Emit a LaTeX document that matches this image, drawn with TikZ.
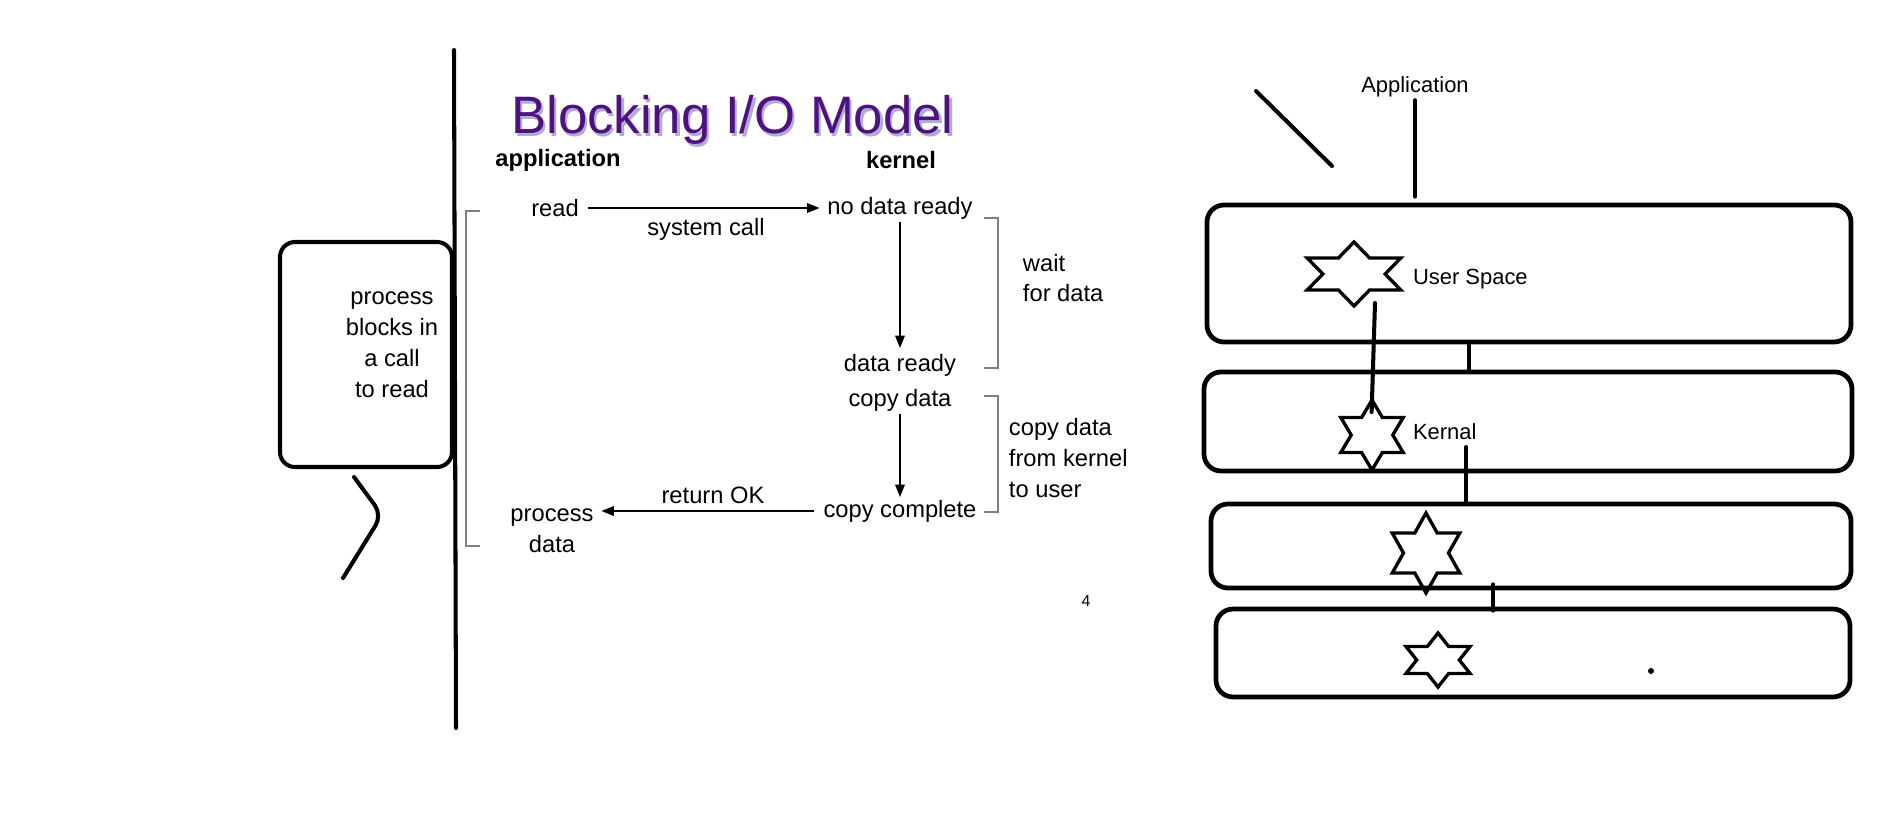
\documentclass[tikz,border=0pt]{standalone}
\usepackage{fontspec}
\setmainfont{Liberation Sans}
\usetikzlibrary{arrows.meta,calc}
\definecolor{titlepurple}{RGB}{78,18,128}
\definecolor{titleshadow}{RGB}{178,172,212}
\definecolor{bracketgray}{RGB}{128,128,128}
\tikzset{
  lbl/.style={inner sep=1.5pt, font=\fontsize{13.5}{17.6}\selectfont},
  hdr/.style={lbl, font=\fontsize{13.5}{17.6}\selectfont\bfseries},
  tag/.style={inner sep=1.5pt, font=\fontsize{12.5}{15}\selectfont},
  flow/.style={-{Triangle[length=7pt,width=5.5pt]}, line width=0.6pt},
  bracket/.style={draw=bracketgray, line width=0.6pt},
  pen/.style={line width=2.3pt, line cap=round},
  callout/.style={draw, line width=2.3pt, rounded corners=0.3cm},
  layerbox/.style={draw, line width=2.7pt, rounded corners=0.34cm},
  hexline/.style={line width=1.9pt, line join=miter}
}
\newcommand{\hexstar}[4]{%
  \begin{scope}[shift={#2}, xscale=#3, yscale=#4]
    \draw[hexline] (90:1) -- (60:0.577) -- (30:1) -- (0:0.577) -- (-30:1)
      -- (-60:0.577) -- (-90:1) -- (-120:0.577) -- (-150:1) -- (180:0.577)
      -- (150:1) -- (120:0.577) -- cycle;
    \coordinate (#1-n) at (90:1);
    \coordinate (#1-s) at (-90:1);
  \end{scope}%
}

\begin{document}
\begin{tikzpicture}[x=0.02cm, y=0.02cm]

  % one pixel of the sketch
  \def\pxu{0.02cm}

  \useasboundingbox (0,0) rectangle (1901,-822);

  % title with its shadow
  \node[font=\fontsize{30}{36}\selectfont, text=titleshadow] at (735,-122.5) {Blocking I/O Model};
  \node[font=\fontsize{30}{36}\selectfont, text=titlepurple] (title) at (732.5,-120) {Blocking I/O Model};

  % column heads
  \node[hdr] (appcol) at (558,-160) {application};
  \node[hdr] (kercol) at (901,-160) {kernel};

  % steps of the call
  \node[lbl] (read)    at (555,-208) {read};
  \node[lbl] (nodata)  at (900,-208) {no data ready};
  \node[lbl] (syscall) at (706,-229) {system call};
  \node[lbl] (ready)   at (900,-365) {data ready};
  \node[lbl] (copy)    at (900,-400) {copy data};
  \node[lbl] (done)    at (900,-511) {copy complete};
  \node[lbl] (retok)   at (713,-495) {return OK};
  \node[lbl, align=center] (proc) at (552,-531) {process\\data};

  \draw[flow, shorten <=0.12cm, shorten >=0.1cm] (read.east) -- (nodata.west);
  \draw[flow, shorten >=0.06cm] (nodata) -- (ready);
  \draw[flow] (copy) -- (done);
  \draw[flow, shorten <=0.14cm, shorten >=0.1cm] (done.west) -- (done.west -| proc.east);

  % brackets
  \draw[bracket] (480,-211) -- (466,-211) -- (466,-546) -- (480,-546);
  \foreach \top/\bot in {218/368, 396/512}{
    \draw[bracket] (984,-\top) -- (998,-\top) -- (998,-\bot) -- (984,-\bot);
  }
  \node[lbl, align=left, anchor=west] (wait) at (1020,-278) {wait\\for data};
  \node[lbl, align=left, anchor=west] (copynote) at (1006,-458) {copy data\\from kernel\\to user};

  \node[font=\fontsize{9}{10}\selectfont, inner sep=0pt] (pagenum) at (1086,-601) {4};

  % left hand sketch
  \draw[pen] (454,-50) -- (456,-728);
  \node[callout, minimum width=172*\pxu, minimum height=225*\pxu] (blockbox) at (366,-354.5) {};
  \node[lbl, align=center] (blocktext) at (392,-345) {process\\blocks in\\a call\\to read};
  \draw[pen, rounded corners=0.24cm] (354,-477) -- (382,-515) -- (343,-578);

  % right hand sketch
  \node[tag] (app) at (1415,-87) {Application};
  \draw[pen] (1256,-91) -- (1332,-166);

  \foreach \n/\cx/\cy/\w/\h in {
    1/1529/273.5/644/137,
    2/1528/421.5/648/99,
    3/1531/546/640/84,
    4/1533/653/634/88
  }{
    \node[layerbox, minimum width=\w*\pxu, minimum height=\h*\pxu] (box\n) at (\cx,-\cy) {};
  }

  \hexstar{us}{(1354,-274)}{54}{32}
  \hexstar{kn}{(1372,-435)}{36}{35}
  \hexstar{dv}{(1426,-553)}{39}{40}
  \hexstar{hw}{(1438,-660)}{37}{27}

  \node[tag, anchor=west] (user) at (1410,-279) {User Space};
  \node[tag, anchor=west] (kern) at (1410,-432) {Kernal};

  % links between the layers
  \coordinate (ustail) at (1375,-303);
  \coordinate (link12) at (1469,0);
  \coordinate (link23) at (1466,-447);
  \coordinate (link34) at (1493,0);
  \draw[pen, shorten >=0.12cm] (app.south) -- (app.south |- box1.north);
  \draw[pen, shorten >=-0.24cm] (ustail) -- (kn-n);
  \draw[pen] (box1.south -| link12) -- (box2.north -| link12);
  \draw[pen] (link23) -- (link23 |- box3.north);
  \draw[pen] ([yshift=0.12cm]box3.south -| link34) -- ([yshift=-0.08cm]box4.north -| link34);

  \fill (1651,-671) circle[radius=0.06cm];

\end{tikzpicture}
\end{document}
